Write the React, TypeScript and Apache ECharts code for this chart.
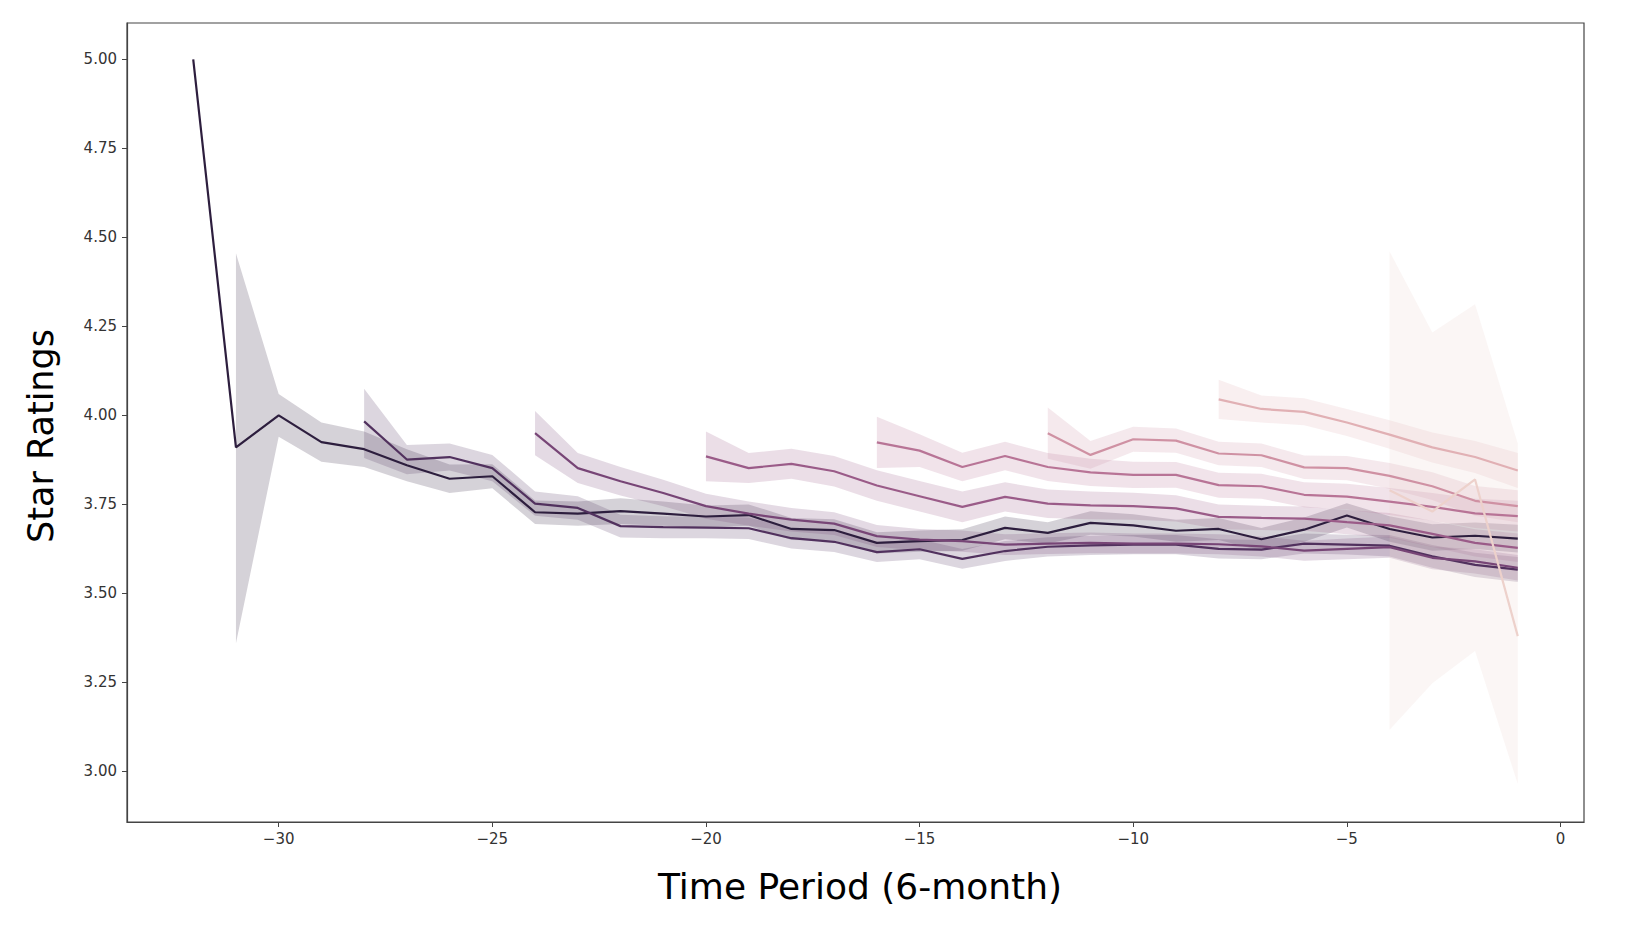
import React, { useEffect, useRef } from "react";
import * as echarts from "echarts";

// Cohort start periods (6-month) and their colours (seaborn cubehelix, dark -> light)
const cohortStarts = [-32, -28, -24, -20, -16, -12, -8, -4];
const cohortColors = ["#2d1e3e", "#51315e", "#774576", "#9a5b88", "#b87496", "#cf91a3", "#e1b0b4", "#edd1cb"];

// Cohort starting at -32
const mean32 = [5.0, 3.91, 4.0, 3.925, 3.905, 3.86, 3.822, 3.829, 3.728, 3.724, 3.731, 3.724, 3.716, 3.72, 3.681, 3.678, 3.642, 3.647, 3.65, 3.684, 3.67, 3.698, 3.691, 3.676, 3.681, 3.652, 3.679, 3.719, 3.681, 3.657, 3.662, 3.654];
const lo32 = [null, 3.36, 3.94, 3.87, 3.855, 3.815, 3.782, 3.795, 3.695, 3.69, 3.695, 3.69, 3.685, 3.69, 3.65, 3.648, 3.612, 3.617, 3.62, 3.652, 3.64, 3.665, 3.66, 3.645, 3.65, 3.62, 3.645, 3.685, 3.645, 3.62, 3.625, 3.615];
const hi32 = [null, 4.455, 4.06, 3.98, 3.955, 3.905, 3.862, 3.863, 3.761, 3.758, 3.767, 3.758, 3.747, 3.75, 3.712, 3.708, 3.672, 3.677, 3.68, 3.716, 3.7, 3.731, 3.722, 3.707, 3.712, 3.684, 3.713, 3.753, 3.717, 3.694, 3.699, 3.693];

// Cohort starting at -28
const mean28 = [3.983, 3.876, 3.883, 3.852, 3.752, 3.74, 3.689, 3.686, 3.685, 3.683, 3.655, 3.645, 3.616, 3.624, 3.597, 3.619, 3.631, 3.635, 3.637, 3.637, 3.625, 3.623, 3.64, 3.637, 3.634, 3.604, 3.58, 3.567];
const lo28 = [3.88, 3.835, 3.845, 3.815, 3.718, 3.707, 3.657, 3.655, 3.655, 3.653, 3.626, 3.616, 3.588, 3.596, 3.569, 3.591, 3.604, 3.608, 3.61, 3.61, 3.598, 3.596, 3.612, 3.609, 3.604, 3.572, 3.546, 3.532];
const hi28 = [4.075, 3.917, 3.921, 3.889, 3.786, 3.773, 3.721, 3.717, 3.715, 3.713, 3.684, 3.674, 3.644, 3.652, 3.625, 3.647, 3.658, 3.662, 3.664, 3.664, 3.652, 3.65, 3.668, 3.665, 3.664, 3.636, 3.614, 3.602];

// Cohort starting at -24
const mean24 = [3.95, 3.852, 3.815, 3.782, 3.745, 3.724, 3.707, 3.696, 3.661, 3.651, 3.647, 3.637, 3.64, 3.642, 3.64, 3.64, 3.638, 3.632, 3.62, 3.625, 3.63, 3.6, 3.59, 3.572];
const lo24 = [3.888, 3.81, 3.775, 3.745, 3.71, 3.69, 3.674, 3.664, 3.63, 3.621, 3.617, 3.608, 3.611, 3.613, 3.612, 3.612, 3.61, 3.604, 3.592, 3.596, 3.6, 3.568, 3.556, 3.536];
const hi24 = [4.012, 3.894, 3.855, 3.819, 3.78, 3.758, 3.74, 3.728, 3.692, 3.681, 3.677, 3.666, 3.669, 3.671, 3.668, 3.668, 3.666, 3.66, 3.648, 3.654, 3.66, 3.632, 3.624, 3.608];

// Cohort starting at -20
const mean20 = [3.885, 3.852, 3.864, 3.843, 3.803, 3.773, 3.743, 3.771, 3.752, 3.747, 3.745, 3.739, 3.715, 3.712, 3.71, 3.7, 3.691, 3.667, 3.642, 3.628];
const lo20 = [3.815, 3.81, 3.822, 3.8, 3.76, 3.73, 3.7, 3.73, 3.712, 3.708, 3.707, 3.702, 3.68, 3.678, 3.676, 3.666, 3.656, 3.63, 3.604, 3.588];
const hi20 = [3.955, 3.894, 3.906, 3.886, 3.846, 3.816, 3.786, 3.812, 3.792, 3.786, 3.783, 3.776, 3.75, 3.746, 3.744, 3.734, 3.726, 3.704, 3.68, 3.668];

// Cohort starting at -16
const mean16 = [3.924, 3.901, 3.855, 3.886, 3.855, 3.84, 3.833, 3.833, 3.804, 3.801, 3.777, 3.772, 3.758, 3.743, 3.725, 3.717];
const lo16 = [3.852, 3.855, 3.815, 3.846, 3.816, 3.802, 3.796, 3.797, 3.769, 3.766, 3.742, 3.736, 3.72, 3.704, 3.684, 3.674];
const hi16 = [3.996, 3.947, 3.895, 3.926, 3.894, 3.878, 3.87, 3.869, 3.839, 3.836, 3.812, 3.808, 3.796, 3.782, 3.766, 3.76];

// Cohort starting at -12
const mean12 = [3.95, 3.889, 3.933, 3.929, 3.893, 3.888, 3.854, 3.852, 3.83, 3.801, 3.76, 3.745];
const lo12 = [3.878, 3.85, 3.898, 3.895, 3.86, 3.855, 3.821, 3.818, 3.794, 3.762, 3.718, 3.7];
const hi12 = [4.022, 3.928, 3.968, 3.963, 3.926, 3.921, 3.887, 3.886, 3.866, 3.84, 3.802, 3.79];

// Cohort starting at -8
const mean8 = [4.045, 4.018, 4.01, 3.98, 3.946, 3.91, 3.883, 3.845];
const lo8 = [3.99, 3.98, 3.972, 3.942, 3.906, 3.868, 3.838, 3.796];
const hi8 = [4.1, 4.056, 4.048, 4.018, 3.986, 3.952, 3.928, 3.894];

// Cohort starting at -4
const mean4 = [3.79, 3.73, 3.82, 3.38];
const lo4 = [3.117, 3.248, 3.338, 2.965];
const hi4 = [4.46, 4.233, 4.312, 3.921];

const cohortMeans = [mean32, mean28, mean24, mean20, mean16, mean12, mean8, mean4];
const cohortLows = [lo32, lo28, lo24, lo20, lo16, lo12, lo8, lo4];
const cohortHighs = [hi32, hi28, hi24, hi20, hi16, hi12, hi8, hi4];

const xTicks = [-30, -25, -20, -15, -10, -5, 0];
const yTicks = [3.0, 3.25, 3.5, 3.75, 4.0, 4.25, 4.5, 4.75, 5.0];

const xTitle = "Time Period (6-month)";
const yTitle = "Star Ratings";

function hexToRgba(hex: string, a: number) {
  const r = parseInt(hex.slice(1, 3), 16);
  const g = parseInt(hex.slice(3, 5), 16);
  const b = parseInt(hex.slice(5, 7), 16);
  return `rgba(${r},${g},${b},${a})`;
}

export default function App() {
  const ref = useRef<HTMLDivElement>(null);

  useEffect(() => {
    if (!ref.current) return;
    const chart = echarts.init(ref.current, null, { renderer: "svg" });

    const series: any[] = [];
    cohortStarts.forEach((start, i) => {
      const color = cohortColors[i];
      const band: number[][] = [];
      cohortLows[i].forEach((l, j) => {
        const h = cohortHighs[i][j];
        if (l != null && h != null) band.push([start + j, l as number, h as number]);
      });
      series.push({
        type: "custom",
        name: `band${start}`,
        z: 1,
        silent: true,
        clip: true,
        encode: { x: 0, y: [1, 2] },
        data: band,
        renderItem: (params: any, api: any) => {
          if (params.dataIndex !== 0) return null;
          const upper = band.map((d) => api.coord([d[0], d[2]]));
          const lower = band.map((d) => api.coord([d[0], d[1]])).reverse();
          return {
            type: "polygon",
            shape: { points: upper.concat(lower) },
            style: { fill: hexToRgba(color, 0.2), stroke: "none" },
          };
        },
      });
    });
    cohortStarts.forEach((start, i) => {
      series.push({
        type: "line",
        name: `cohort${start}`,
        z: 3,
        silent: true,
        symbol: "none",
        showSymbol: false,
        data: cohortMeans[i].map((v, j) => [start + j, v]),
        lineStyle: { color: cohortColors[i], width: 2.2 },
        itemStyle: { color: cohortColors[i] },
      });
    });

    const tickColor = "#444";
    chart.setOption({
      animation: false,
      backgroundColor: "#ffffff",
      grid: {
        left: 127,
        right: 46,
        top: 23,
        bottom: 118,
        show: true,
        borderColor: tickColor,
        borderWidth: 1.2,
        containLabel: false,
        outerBoundsMode: "none",
      },
      xAxis: {
        type: "value",
        min: -33.55,
        max: 0.55,
        axisLine: { show: true, onZero: false, lineStyle: { color: tickColor, width: 1.2 } },
        axisTick: { show: true, length: 5, lineStyle: { color: tickColor }, customValues: xTicks },
        axisLabel: {
          customValues: xTicks,
          fontFamily: "DejaVu Sans",
          fontSize: 15,
          color: "#333",
          margin: 9,
          formatter: (v: number) => (v < 0 ? "\u2212" + Math.abs(v) : String(v)),
        },
        splitLine: { show: false },
      },
      yAxis: {
        type: "value",
        min: 2.858,
        max: 5.102,
        axisLine: { show: true, onZero: false, lineStyle: { color: tickColor, width: 1.2 } },
        axisTick: { show: true, length: 5, lineStyle: { color: tickColor }, customValues: yTicks },
        axisLabel: {
          customValues: yTicks,
          fontFamily: "DejaVu Sans",
          fontSize: 15,
          color: "#333",
          margin: 10,
          formatter: (v: number) => v.toFixed(2),
        },
        splitLine: { show: false },
      },
      graphic: [
        {
          type: "text",
          x: 860,
          y: 886,
          silent: true,
          style: {
            text: xTitle,
            font: "36px 'DejaVu Sans'",
            fill: "#000",
            textAlign: "center",
            textVerticalAlign: "middle",
          },
        },
        {
          type: "text",
          x: 41,
          y: 436,
          rotation: Math.PI / 2,
          silent: true,
          style: {
            text: yTitle,
            font: "35px 'DejaVu Sans'",
            fill: "#000",
            textAlign: "center",
            textVerticalAlign: "middle",
          },
        },
      ],
      series,
    });

    return () => chart.dispose();
  }, []);

  return (
    <div
      ref={ref}
      style={{ position: "absolute", left: 0, top: 0, width: 1630, height: 940 }}
    />
  );
}
